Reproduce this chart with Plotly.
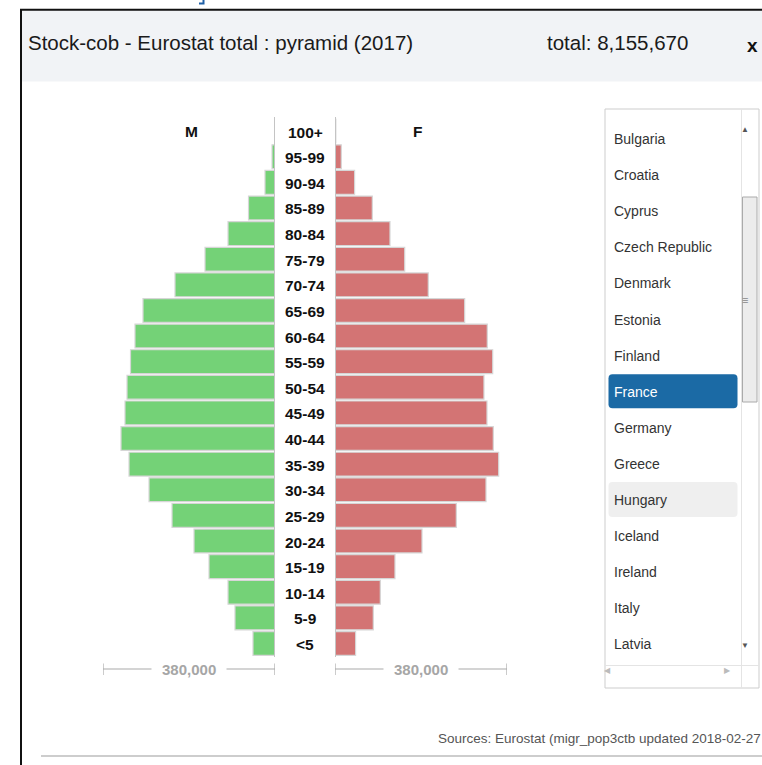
import plotly.graph_objects as go

# ---- data -------------------------------------------------------------
age_groups = ["<5", "5-9", "10-14", "15-19", "20-24", "25-29", "30-34", "35-39",
              "40-44", "45-49", "50-54", "55-59", "60-64", "65-69", "70-74",
              "75-79", "80-84", "85-89", "90-94", "95-99", "100+"]
male = [48600, 88400, 103800, 145800, 178900, 227500, 278300, 322500,
        340200, 331400, 326900, 319200, 309300, 291600, 220900,
        154600, 103800, 58500, 22100, 6600, 500]
female = [45500, 84600, 100100, 132500, 192200, 268000, 333600, 361600,
          349700, 335800, 329100, 348400, 336400, 286500, 206100,
          154000, 121500, 82400, 43300, 13900, 1800]

countries = ["Bulgaria", "Croatia", "Cyprus", "Czech Republic", "Denmark",
             "Estonia", "Finland", "France", "Germany", "Greece", "Hungary",
             "Iceland", "Ireland", "Italy", "Latvia"]
selected_country = "France"
hovered_country = "Hungary"

title_text = "Stock-cob - Eurostat total : pyramid (2017)"
total_text = "total: 8,155,670"
source_text = "Sources: Eurostat (migr_pop3ctb updated 2018-02-27"
scale_value = 380000
scale_label = "380,000"

# ---- page geometry helpers (pixel -> paper) ---------------------------
W, H = 762, 765


def px(x):
    return x / W


def py(y):
    return 1 - y / H


SANS = "Liberation Sans, Arial, Helvetica, sans-serif"
GREEN = "#74d277"
RED = "#d37474"

fig = go.Figure()

fig.add_trace(go.Bar(
    y=age_groups, x=male, orientation="h", xaxis="x", yaxis="y",
    marker=dict(color=GREEN, line=dict(color="#d6d6d6", width=1.2)),
    hoverinfo="x+y", name="M", showlegend=False,
))
fig.add_trace(go.Bar(
    y=age_groups, x=female, orientation="h", xaxis="x2", yaxis="y",
    marker=dict(color=RED, line=dict(color="#d6d6d6", width=1.2)),
    hoverinfo="x+y", name="F", showlegend=False,
))

shapes = []
annotations = []

# dialog header and frame
shapes.append(dict(type="rect", xref="paper", yref="paper",
                   x0=px(21), x1=px(W + 2), y0=py(81.5), y1=py(10),
                   fillcolor="#f1f3f6", line=dict(width=0), layer="below"))
shapes.append(dict(type="line", xref="paper", yref="paper",
                   x0=px(20), x1=px(W + 2), y0=py(9.7), y1=py(9.7),
                   line=dict(color="#111111", width=2)))
shapes.append(dict(type="line", xref="paper", yref="paper",
                   x0=px(21), x1=px(21), y0=py(9), y1=py(H + 2),
                   line=dict(color="#111111", width=2)))
# small link bracket from the page behind the dialog
shapes.append(dict(type="path", xref="paper", yref="paper",
                   path=f"M {px(199)},{py(3.5)} L {px(203.5)},{py(3.5)} L {px(203.5)},{py(-1)}",
                   line=dict(color="#1f5fa6", width=2)))

annotations.append(dict(text=title_text, x=px(26), y=py(42), xref="paper", yref="paper",
                        xanchor="left", yanchor="middle", showarrow=False,
                        font=dict(family=SANS, size=20.5, color="#1a1a1a")))
annotations.append(dict(text=total_text, x=px(545), y=py(42), xref="paper", yref="paper",
                        xanchor="left", yanchor="middle", showarrow=False,
                        font=dict(family=SANS, size=20.5, color="#1a1a1a")))
annotations.append(dict(text="<b>x</b>", x=px(752), y=py(45), xref="paper", yref="paper",
                        xanchor="center", yanchor="middle", showarrow=False,
                        font=dict(family=SANS, size=19, color="#111111")))

# centre axis lines of the pyramid
for ax in ("x", "x2"):
    shapes.append(dict(type="line", xref=ax, yref="paper", x0=0, x1=0,
                       y0=py(657), y1=py(117), line=dict(color="#c4c4c4", width=2)))

# age-group labels between the two halves
for g in age_groups:
    annotations.append(dict(text=f"<b>{g}</b>", x=px(305), y=g, xref="paper", yref="y",
                            xanchor="center", yanchor="middle", showarrow=False, yshift=-1,
                            font=dict(family=SANS, size=15.5, color="#111111")))
annotations.append(dict(text="<b>M</b>", x=px(191), y=age_groups[-1], xref="paper", yref="y",
                        xanchor="center", yanchor="middle", showarrow=False,
                        font=dict(family=SANS, size=15.5, color="#111111")))
annotations.append(dict(text="<b>F</b>", x=px(418), y=age_groups[-1], xref="paper", yref="y",
                        xanchor="center", yanchor="middle", showarrow=False,
                        font=dict(family=SANS, size=15.5, color="#111111")))

# scale bars under each half
for ax in ("x", "x2"):
    shapes.append(dict(type="line", xref=ax, yref="paper", x0=0, x1=scale_value,
                       y0=py(669), y1=py(669), line=dict(color="#a9a9a9", width=1.2)))
    for v in (0, scale_value):
        shapes.append(dict(type="line", xref=ax, yref="paper", x0=v, x1=v,
                           y0=py(663.5), y1=py(675), line=dict(color="#a9a9a9", width=1.2)))
    annotations.append(dict(text=f"<b>{scale_label}</b>", x=scale_value / 2, y=py(669),
                            xref=ax, yref="paper", xanchor="center", yanchor="middle",
                            showarrow=False, bgcolor="#ffffff", borderpad=10,
                            font=dict(family=SANS, size=15, color="#a6a6a6")))

# country list box
LX0, LX1, LY0, LY1 = 605, 759, 109, 688
shapes.append(dict(type="rect", xref="paper", yref="paper",
                   x0=px(LX0), x1=px(LX1), y0=py(LY1), y1=py(LY0),
                   fillcolor="#ffffff", line=dict(color="#cdcdcd", width=1), layer="below"))
shapes.append(dict(type="line", xref="paper", yref="paper", x0=px(741.5), x1=px(741.5),
                   y0=py(LY0), y1=py(LY1), line=dict(color="#e4e4e4", width=1)))
shapes.append(dict(type="line", xref="paper", yref="paper", x0=px(LX0), x1=px(LX1),
                   y0=py(665.5), y1=py(665.5), line=dict(color="#e4e4e4", width=1)))
shapes.append(dict(type="rect", xref="paper", yref="paper",
                   x0=px(742.5), x1=px(757), y0=py(402), y1=py(197),
                   fillcolor="#ececec", line=dict(color="#aaaaaa", width=1)))
annotations.append(dict(text="≡", x=px(750), y=py(300), xref="paper", yref="paper",
                        showarrow=False, font=dict(family=SANS, size=11, color="#888888")))
for txt, x, y, c in (("▲", 750.5, 122.5, "#555555"), ("▼", 750.5, 651.5, "#555555"),
                     ("◀", 613, 676.5, "#bbbbbb"), ("▶", 733, 676.5, "#bbbbbb")):
    annotations.append(dict(text=txt, x=px(x), y=py(y), xref="paper", yref="paper",
                            showarrow=False, font=dict(family=SANS, size=8, color=c)))


def rounded(x0, y0, x1, y1, r=4):
    rx, ry = r / W, r / H
    a0, a1, b0, b1 = px(x0), px(x1), py(y1), py(y0)
    return (f"M {a0 + rx},{b0} L {a1 - rx},{b0} Q {a1},{b0} {a1},{b0 + ry} "
            f"L {a1},{b1 - ry} Q {a1},{b1} {a1 - rx},{b1} L {a0 + rx},{b1} "
            f"Q {a0},{b1} {a0},{b1 - ry} L {a0},{b0 + ry} Q {a0},{b0} {a0 + rx},{b0} Z")


ITEM_Y0, ITEM_STEP = 139, 36.1
for i, name in enumerate(countries):
    yc = ITEM_Y0 + i * ITEM_STEP
    color = "#333333"
    if name == selected_country:
        shapes.append(dict(type="path", xref="paper", yref="paper",
                           path=rounded(608.5, yc - 17.5, 737.5, yc + 16.5),
                           fillcolor="#1b6aa5", line=dict(width=0)))
        color = "#ffffff"
    elif name == hovered_country:
        shapes.append(dict(type="path", xref="paper", yref="paper",
                           path=rounded(608.5, yc - 18, 737.5, yc + 17),
                           fillcolor="#efefef", line=dict(width=0), layer="below"))
    annotations.append(dict(text=name, x=px(612), y=py(yc), xref="paper", yref="paper",
                            xanchor="left", yanchor="middle", showarrow=False,
                            font=dict(family=SANS, size=14, color=color)))

# source line and rule
annotations.append(dict(text=source_text, x=px(763), y=py(738), xref="paper", yref="paper",
                        xanchor="right", yanchor="middle", showarrow=False,
                        font=dict(family=SANS, size=13.5, color="#555555")))
shapes.append(dict(type="line", xref="paper", yref="paper", x0=px(41), x1=px(W + 2),
                   y0=py(756), y1=py(756), line=dict(color="#bdbdbd", width=1.5)))

fig.update_layout(
    width=W, height=H,
    margin=dict(l=0, r=0, t=0, b=0),
    paper_bgcolor="#ffffff", plot_bgcolor="rgba(0,0,0,0)",
    bargap=0.07,
    xaxis=dict(domain=[px(103), px(275)], range=[scale_value, 0], visible=False,
               fixedrange=True),
    xaxis2=dict(domain=[px(335), px(507)], range=[0, scale_value], visible=False,
                fixedrange=True),
    yaxis=dict(domain=[py(656.3), py(118.3)], type="category",
               categoryorder="array", categoryarray=age_groups,
               visible=False, fixedrange=True),
    shapes=shapes,
    annotations=annotations,
)

fig.write_html("out.html")
